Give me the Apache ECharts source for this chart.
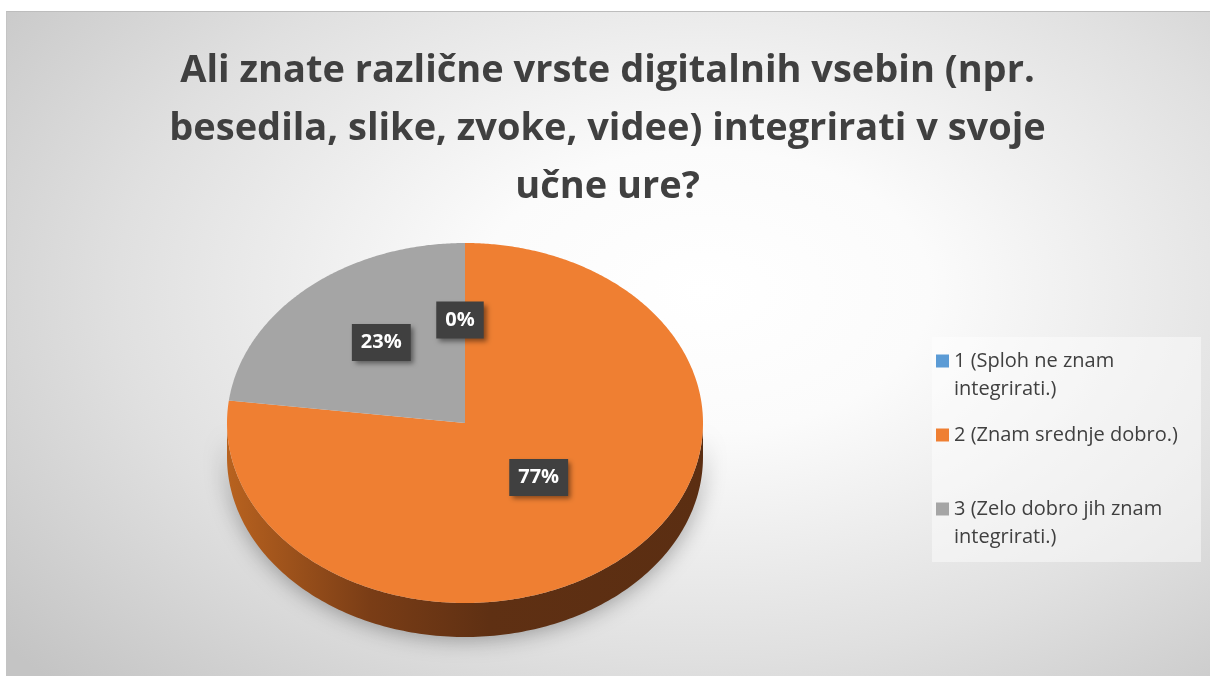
<!DOCTYPE html>
<html>
<head>
<meta charset="utf-8">
<script src="https://cdn.jsdelivr.net/npm/echarts@6/dist/echarts.min.js"></script>
<style>
  html, body { margin: 0; padding: 0; background: #fff; }
  #bg {
    position: absolute; left: 6px; top: 11px; width: 1203px; height: 664px;
    border-top: 1px solid #bdbdbd; border-left: 1px solid #c4c4c4;
    background: radial-gradient(ellipse 75% 85% at 58% 42%, #ffffff 0%, #fbfbfb 25%, #e0e0e0 65%, #c4c4c4 100%);
  }
  #chart { position: absolute; left: 0; top: 0; width: 1215px; height: 677px; }
</style>
</head>
<body>
<div id="bg"></div>
<div id="chart"></div>
<script>
const titleLines = [
  'Ali znate različne vrste digitalnih vsebin (npr.',
  'besedila, slike, zvoke, videe) integrirati v svoje',
  'učne ure?'
];
const categories = [
  '1 (Sploh ne znam integrirati.)',
  '2 (Znam srednje dobro.)',
  '3 (Zelo dobro jih znam integrirati.)'
];
const legendLines = [
  ['1 (Sploh ne znam', 'integrirati.)'],
  ['2 (Znam srednje dobro.)'],
  ['3 (Zelo dobro jih znam', 'integrirati.)']
];
const values = [0, 77, 23];
const colors = ['#5b9bd5', '#ef7f32', '#a5a5a5'];

// pie geometry (tilted 3D look)
const CX = 465, CY = 423, RX = 238, RY = 180, DEPTH = 34;
const total = values.reduce((s, v) => s + v, 0);

function pt(deg, dy) {
  const r = deg * Math.PI / 180;
  return [CX + RX * Math.sin(r), CY - RY * Math.cos(r) + (dy || 0)];
}

function sliceRange(i) {
  let start = 0;
  for (let k = 0; k < i; k++) start += values[k] / total * 360;
  return [start, start + values[i] / total * 360];
}

function renderSlice(params, api) {
  const i = params.seriesIndex;
  const v = api.value(0);
  const [a0, a1] = sliceRange(i);
  const children = [];

  // side wall, only the front half is visible
  const s0 = Math.max(a0, 90), s1 = Math.min(a1, 270);
  if (s1 > s0) {
    const top = [], bottom = [];
    for (let d = s0; d <= s1; d += 1) { top.push(pt(d)); bottom.push(pt(d, DEPTH)); }
    top.push(pt(s1)); bottom.push(pt(s1, DEPTH));
    children.push({
      type: 'polygon',
      z2: 1,
      shape: { points: top.concat(bottom.reverse()) },
      style: {
        fill: new echarts.graphic.LinearGradient(0, 0, 1, 0, [
          { offset: 0, color: '#b8621f' },
          { offset: 0.3, color: '#7a3d16' },
          { offset: 0.55, color: '#5f3013' },
          { offset: 1, color: '#5b2e12' }
        ]),
        shadowBlur: 22,
        shadowColor: 'rgba(0,0,0,0.35)',
        shadowOffsetY: 2
      }
    });
  }

  // top face
  if (a1 > a0) {
    const pts = [[CX, CY]];
    for (let d = a0; d <= a1; d += 0.5) pts.push(pt(d));
    pts.push(pt(a1));
    children.push({
      type: 'polygon',
      z2: 10,
      shape: { points: pts },
      style: { fill: colors[i] }
    });
  }

  // data label
  const mid = (a0 + a1) / 2 * Math.PI / 180;
  children.push({
    type: 'text',
    z2: 100,
    x: CX + RX * 0.5 * Math.sin(mid) - 5,
    y: CY - RY * 0.5 * Math.cos(mid) - 13,
    style: {
      text: Math.round(v / total * 100) + '%',
      fill: '#ffffff',
      font: 'bold 20px "Open Sans"',
      align: 'center',
      verticalAlign: 'middle',
      backgroundColor: '#404040',
      padding: [9, 9, 8, 9],
      shadowBlur: 5,
      shadowColor: 'rgba(0,0,0,0.45)',
      shadowOffsetX: 3,
      shadowOffsetY: 3
    }
  });
  return { type: 'group', children: children };
}

const chart = echarts.init(document.getElementById('chart'));
const option = {
  backgroundColor: 'transparent',
  animation: false,
  title: {
    text: titleLines.join('\n'),
    left: 'center',
    top: 37,
    textStyle: {
      fontFamily: 'Open Sans',
      fontWeight: 'bold',
      fontSize: 38,
      lineHeight: 58,
      color: '#404040'
    }
  },
  legend: {
    orient: 'vertical',
    left: 936,
    top: 319,
    padding: 0,
    itemGap: 18,
    itemWidth: 13,
    itemHeight: 13,
    icon: 'rect',
    data: categories,
    // leading blank line keeps the marker beside the first line of wrapped names
    formatter: name => {
      const lines = legendLines[categories.indexOf(name)];
      return (lines.length > 1 ? '\n' : '') + lines.join('\n');
    },
    textStyle: {
      fontFamily: 'Open Sans',
      fontSize: 20,
      lineHeight: 28,
      color: '#404040'
    }
  },
  graphic: [{
    type: 'rect',
    z: -1,
    shape: { x: 932, y: 337, width: 269, height: 225 },
    style: { fill: 'rgba(255,255,255,0.45)' }
  }],
  series: categories.map((name, i) => ({
    type: 'custom',
    name: name,
    coordinateSystem: 'none',
    itemStyle: { color: colors[i] },
    data: [[values[i]]],
    renderItem: renderSlice
  }))
};
chart.setOption(option);
</script>
</body>
</html>
